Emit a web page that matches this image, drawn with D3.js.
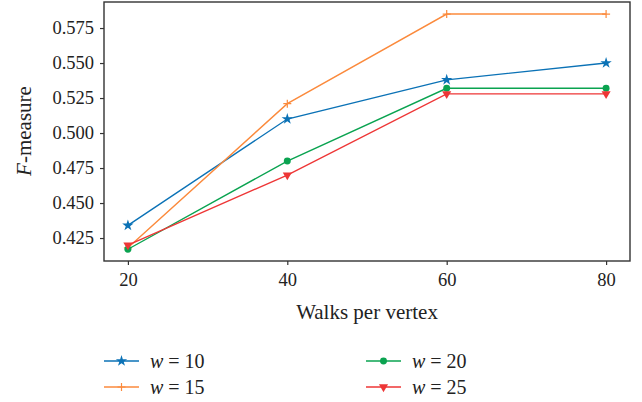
<!DOCTYPE html>
<html>
<head>
<meta charset="utf-8">
<script src="https://cdn.jsdelivr.net/npm/d3@7"></script>
<style>
  html, body { margin: 0; padding: 0; background: #fff; }
  svg text { font-family: "Liberation Serif", "DejaVu Serif", serif; fill: #222; }
</style>
</head>
<body>
<svg id="chart" width="642" height="402"></svg>
<script>
// Walks per vertex on the x axis
const walks = [20, 40, 60, 80];
// F-measure per window size w
const w10 = [0.434, 0.510, 0.538, 0.550];
const w15 = [0.418, 0.521, 0.585, 0.585];
const w20 = [0.417, 0.480, 0.532, 0.532];
const w25 = [0.420, 0.470, 0.528, 0.528];
const yTicks = [0.425, 0.450, 0.475, 0.500, 0.525, 0.550, 0.575];
const seriesNames = ["10", "15", "20", "25"];

const series = [
  { name: seriesNames[0], values: w10, color: "#0b72b6", marker: "star" },
  { name: seriesNames[1], values: w15, color: "#fb8a3c", marker: "plus" },
  { name: seriesNames[2], values: w20, color: "#0aa350", marker: "circle" },
  { name: seriesNames[3], values: w25, color: "#ee3636", marker: "tri" }
];

const svg = d3.select("#chart");
const plot = { left: 104, top: 2, right: 630, bottom: 261 };

const x = d3.scaleLinear().domain([17, 83]).range([plot.left, plot.right]);
const y = d3.scaleLinear().domain([0.4086, 0.5936]).range([plot.bottom, plot.top]);

// Axes
const xAxis = svg.append("g")
  .attr("transform", `translate(0,${plot.bottom})`)
  .call(d3.axisBottom(x).tickValues(walks).tickSize(4).tickPadding(8).tickSizeOuter(0));
const yAxis = svg.append("g")
  .attr("transform", `translate(${plot.left},0)`)
  .call(d3.axisLeft(y).tickValues(yTicks).tickFormat(d3.format(".3f")).tickSize(4).tickPadding(6).tickSizeOuter(0));

[xAxis, yAxis].forEach(g => {
  g.select(".domain").remove();
  g.selectAll("line").attr("stroke", "#333").attr("stroke-width", 1.2);
  g.selectAll("text")
    .style("font-family", '"Liberation Serif", serif')
    .style("font-size", "18.5px")
    .attr("fill", "#222");
});

// Frame around the plot area
svg.append("rect")
  .attr("x", plot.left).attr("y", plot.top)
  .attr("width", plot.right - plot.left).attr("height", plot.bottom - plot.top)
  .attr("fill", "none").attr("stroke", "#333").attr("stroke-width", 1.4);

// Marker shapes
const symbolFor = {
  star: d3.symbol().type(d3.symbolStar).size(40),
  circle: d3.symbol().type(d3.symbolCircle).size(38),
  tri: d3.symbol().type(d3.symbolTriangle).size(36)
};

function drawMarker(g, s, cx, cy) {
  if (s.marker === "plus") {
    g.append("path")
      .attr("d", `M${cx - 4},${cy}H${cx + 4}M${cx},${cy - 4}V${cy + 4}`)
      .attr("stroke", s.color).attr("stroke-width", 1.2).attr("fill", "none");
  } else {
    g.append("path")
      .attr("d", symbolFor[s.marker]())
      .attr("fill", s.color)
      .attr("transform", `translate(${cx},${cy})` + (s.marker === "tri" ? " rotate(180)" : ""));
  }
}

const line = d3.line().x((d, i) => x(walks[i])).y(d => y(d));

series.forEach(s => {
  const g = svg.append("g");
  g.append("path")
    .attr("d", line(s.values))
    .attr("fill", "none")
    .attr("stroke", s.color)
    .attr("stroke-width", 1.4);
  s.values.forEach((v, i) => drawMarker(g, s, x(walks[i]), y(v)));
});

// Axis titles
svg.append("text")
  .attr("x", 367).attr("y", 319)
  .attr("text-anchor", "middle")
  .style("font-size", "21px")
  .text("Walks per vertex");

const yl = svg.append("text")
  .attr("transform", "translate(31,131) rotate(-90)")
  .attr("text-anchor", "middle")
  .style("font-size", "21px");
yl.append("tspan").style("font-style", "italic").text("F");
yl.append("tspan").text("-measure");

// Legend
const legendPos = [
  { lx: 104, ly: 361 }, { lx: 104, ly: 387 },
  { lx: 366, ly: 361 }, { lx: 366, ly: 387 }
];
series.forEach((s, i) => {
  const { lx, ly } = legendPos[i];
  const g = svg.append("g");
  g.append("line")
    .attr("x1", lx).attr("x2", lx + 35)
    .attr("y1", ly).attr("y2", ly)
    .attr("stroke", s.color).attr("stroke-width", 1.4);
  drawMarker(g, s, lx + 17.5, ly);
  const t = g.append("text")
    .attr("x", lx + 46).attr("y", ly + 6.5)
    .style("font-size", "20px");
  t.append("tspan").style("font-style", "italic").text("w");
  t.append("tspan").text(" = " + s.name);
});
</script>
</body>
</html>
